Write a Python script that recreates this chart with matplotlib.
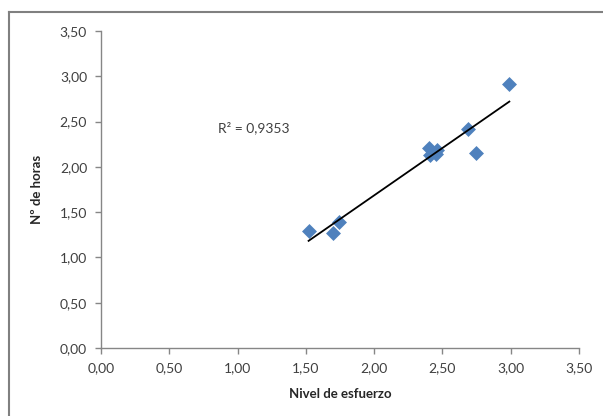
import matplotlib
matplotlib.use("Agg")
import matplotlib.pyplot as plt
import numpy as np
from matplotlib.ticker import FuncFormatter, MultipleLocator
from matplotlib.lines import Line2D

# Data
esfuerzo = [1.52, 1.70, 1.74, 2.40, 2.41, 2.45, 2.46, 2.69, 2.745, 2.99]
horas = [1.29, 1.27, 1.39, 2.21, 2.13, 2.14, 2.19, 2.42, 2.15, 2.91]
r2_label = "R² = 0,9353"
x_label = "Nivel de esfuerzo"
y_label = "Nº de horas"

plt.rcParams['font.family'] = ['Lato', 'DejaVu Sans']

fig = plt.figure(figsize=(6.03, 4.16), dpi=100)
ax = fig.add_axes([101/603, 1-348/416, (579-101)/603, (348-31)/416])

ax.scatter(esfuerzo, horas, marker='D', s=58, color='#4F81BD', zorder=3, linewidths=0)

# linear trendline
xa = np.array(esfuerzo)
ya = np.array(horas)
m, b = np.polyfit(xa, ya, 1)
xs = np.array([xa.min(), xa.max()])
ax.plot(xs, m*xs + b, color='black', lw=1.3, zorder=4)

ax.text(0.86, 2.43, r2_label, fontsize=10, color='#404040', va='center', ha='left')

ax.set_xlim(0, 3.5)
ax.set_ylim(0, 3.5)
ax.xaxis.set_major_locator(MultipleLocator(0.5))
ax.yaxis.set_major_locator(MultipleLocator(0.5))
fmt = FuncFormatter(lambda v, p: f"{v:.2f}".replace('.', ','))
ax.xaxis.set_major_formatter(fmt)
ax.yaxis.set_major_formatter(fmt)

for s in ['top', 'right']:
    ax.spines[s].set_visible(False)
for s in ['left', 'bottom']:
    ax.spines[s].set_color('#868686')
    ax.spines[s].set_linewidth(1.0)
ax.tick_params(direction='out', length=4, width=1, color='#868686',
               labelsize=10, labelcolor='#404040', pad=6)

ax.set_xlabel(x_label, fontsize=9.5, fontweight='bold', color='#262626', labelpad=10)
ax.set_ylabel(y_label, fontsize=9.5, fontweight='bold', color='#262626', labelpad=12)

# outer chart border (top and left visible, cropped at right/bottom)
fig.add_artist(Line2D([9/603, 9/603], [0, 1-12/416], transform=fig.transFigure,
                      color='#808080', lw=1.5))
fig.add_artist(Line2D([9/603, 1], [1-12/416, 1-12/416], transform=fig.transFigure,
                      color='#808080', lw=1.5))

fig.savefig("out.png", dpi=100)
